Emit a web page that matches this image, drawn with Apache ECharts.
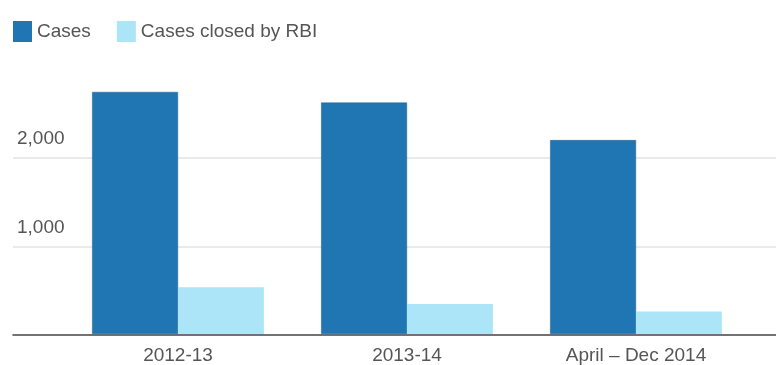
<!DOCTYPE html>
<html>
<head>
<meta charset="utf-8">
<script src="https://cdn.jsdelivr.net/npm/echarts@6/dist/echarts.min.js"></script>
<style>
  html, body { margin: 0; padding: 0; background: #fff; }
  #chart { width: 776px; height: 365px; }
</style>
</head>
<body>
<div id="chart"></div>
<script>
// chart data
var categories = ['2012-13', '2013-14', 'April \u2013 Dec 2014'];
var cases = [2740, 2620, 2195];
var casesClosed = [530, 340, 255];
var yTicks = [0, 1000, 2000, 3000];

window.onload = function () {
	drawChart();
};

function drawChart() {
	var myChart = echarts.init(document.getElementById('chart'));
	var font = '"Liberation Sans", Arial, sans-serif';

	var option = {
		animation: false,
		textStyle: { fontFamily: font },
		legend: {
			left: 13,
			top: 21,
			padding: 0,
			icon: 'rect',
			itemWidth: 19,
			itemHeight: 21,
			itemGap: 26,
			itemStyle: { borderWidth: 0 },
			textStyle: { fontSize: 19, color: '#555', fontFamily: font },
			data: ['Cases', 'Cases closed by RBI']
		},
		grid: [
			// bars
			{ left: 63.5, right: 25.5, top: 69, bottom: 30 },
			// full-width gridlines + baseline
			{ left: 13, right: 0, top: 69, bottom: 30 }
		],
		xAxis: [
			{
				type: 'category',
				gridIndex: 0,
				data: categories,
				axisLine: { show: false },
				axisTick: { show: false },
				axisLabel: { fontSize: 19, color: '#555', margin: 12, fontFamily: font }
			},
			{
				type: 'value',
				gridIndex: 1,
				min: 0,
				max: 1,
				axisLine: { show: true, onZero: false, lineStyle: { color: '#444', width: 1.5 } },
				axisTick: { show: false },
				axisLabel: { show: false },
				splitLine: { show: false }
			}
		],
		yAxis: [
			{
				type: 'value',
				gridIndex: 0,
				min: yTicks[0],
				max: yTicks[yTicks.length - 1],
				interval: 1000,
				show: false
			},
			{
				type: 'value',
				gridIndex: 1,
				min: yTicks[0],
				max: yTicks[yTicks.length - 1],
				interval: 1000,
				axisLine: { show: false },
				axisTick: { show: false },
				axisLabel: {
					inside: true,
					margin: 4,
					fontSize: 19,
					color: '#555',
					fontFamily: font,
					verticalAlign: 'bottom',
					padding: [0, 0, 9, 0],
					showMinLabel: false,
					showMaxLabel: false,
					formatter: function (v) { return v.toLocaleString('en-US'); }
				},
				splitLine: { show: true, showMinLine: false, showMaxLine: false, lineStyle: { color: '#e3e3e3', width: 1.5 } }
			}
		],
		series: [
			{
				name: 'Cases',
				type: 'bar',
				xAxisIndex: 0,
				yAxisIndex: 0,
				data: cases,
				barGap: '0%',
				barCategoryGap: '25%',
				itemStyle: { color: '#1f76b3', borderColor: '#1a5f92', borderWidth: 0.5 }
			},
			{
				name: 'Cases closed by RBI',
				type: 'bar',
				xAxisIndex: 0,
				yAxisIndex: 0,
				data: casesClosed,
				barGap: '0%',
				barCategoryGap: '25%',
				itemStyle: { color: '#ace5f8' }
			}
		]
	};

	myChart.setOption(option);
}
</script>
</body>
</html>
